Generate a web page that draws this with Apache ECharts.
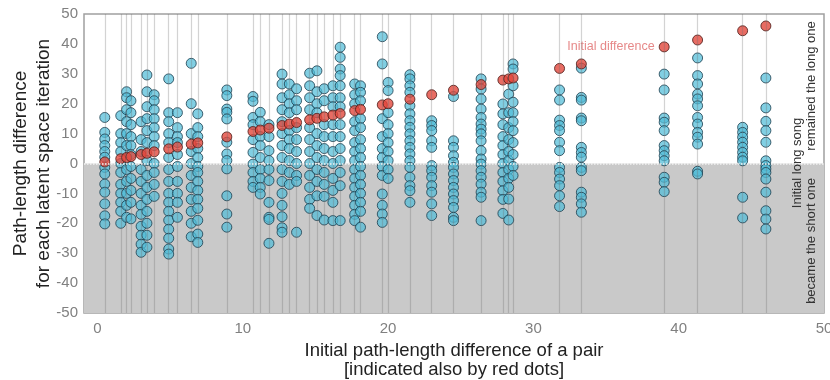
<!DOCTYPE html>
<html>
<head>
<meta charset="utf-8">
<script src="https://cdn.jsdelivr.net/npm/echarts@6/dist/echarts.min.js"></script>
<style>
  html, body { margin: 0; padding: 0; background: #fff; }
  #chart { width: 830px; height: 380px; }
</style>
</head>
<body>
<div id="chart"></div>
<script>
// initial path-length difference of each pair (also the red dots)
const pairX = [
  0.5, 1.6, 2.0, 2.3, 3.0, 3.4, 3.9, 4.9, 5.5, 6.45, 6.9, 8.9,
  10.7, 11.2, 11.8, 12.7, 13.2, 13.7, 14.6, 15.1, 15.6, 16.2, 16.7,
  17.7, 18.1, 19.6, 20.0, 21.5, 23.0, 24.5, 26.4, 27.9, 28.3, 28.6,
  31.8, 33.3, 39.0, 41.3, 44.4, 46.0
];
// path-length difference for each latent space iteration, one list per pair
const iterDiffs = [
  [15.4, 10.4, 8.2, 6, 4, 2.1, -1.3, -3.5, -6.9, -9.6, -13.5, -17.5, -20.2],
  [16, 10, 7, 4, 0, -3, -7, -10, -13, -16, -20],
  [24, 22, 18, 14, 10, 6, -2, -6, -10, -14, -18],
  [21, 17, 13, 9, 6, 3, -1, -5, -9, -13, -18.5],
  [14, 8, 4, -2, -6, -10, -14, -17, -21, -24, -27, -29.7],
  [29.6, 24, 19, 15, 11, 7, 1, -4, -8, -12, -16, -20, -24, -28],
  [23, 21, 18, 15, 12, 9, 6, 0, -3, -7, -11],
  [28.3, 17, 14, 10, 7, 2, -2, -6, -10, -13, -16, -19, -22, -25, -28.6, -30.3],
  [17, 12, 9, 7, 3, -1, -6, -10, -13, -18],
  [33.5, 20, 10, 4, 0, -4, -8, -12, -16, -20, -24.5],
  [16.6, 12, 9, 5, 2, -1, -3, -6, -9, -12, -15, -19, -23.6, -26.4],
  [24.6, 22.7, 18.2, 17.1, 14.9, 7.1, 3.2, 1, -1.8, -10.8, -16.9, -21.3],
  [22.4, 20.8, 15.4, 13, 8, 3.7, -0.2, -3, -6, -8],
  [17.1, 14, 9, 6, 2, -2, -5, -8, -10.2],
  [13, 9, 4.3, 1, -2, -5.7, -13, -18, -18.7, -26.7],
  [29.9, 26.6, 22, 18, 14, 10, 6, 2, -2, -6, -10, -14, -17.8, -21.5, -23],
  [26.6, 23, 20, 17, 11, 8, 5, 1, -3, -7],
  [25, 21, 18, 12, 8, 4, 0, -4, -6, -23],
  [30.2, 26, 22, 18, 12, 8, 4, 0, -4, -8, -12, -15],
  [31, 24, 20, 17, 10, 6, 2, -2, -6, -10.8, -17.4],
  [25, 21, 13, 9, 5, 1, -3, -7, -11, -18.9],
  [26, 22, 19, 13, 9, 4, 0, -5, -9, -13, -19.1],
  [38.9, 35.5, 31.6, 29.4, 26, 22, 19, 13, 9, 5, 1, -3, -7.4, -19.1],
  [26.6, 23, 20, 14, 11, 7, 4, 1, -2, -5, -8, -11, -14, -17, -19.1],
  [26, 23.8, 21, 15, 12, 8, 5, 2, -1, -4, -7, -10, -13, -16, -21.3],
  [42.4, 33.3, 15, 9, 5, 2, -1, -4, -10.2, -14, -16.9, -19.7],
  [27.1, 24.4, 17, 13, 10, 7, 4, 1, -2, -5],
  [29.7, 28.3, 26, 23.8, 19.3, 16.6, 14.3, 12.1, 9.9, 7.6, 5.4, 3.2, 0.9, -1.3, -4.6, -7.4, -9.1, -13],
  [14.3, 12.7, 11, 7.6, 5.4, -0.7, -2.4, -4.6, -7.4, -9.6, -13.5, -17.4],
  [22.4, 7.6, 5.4, 2.6, 0.4, -1.3, -3.5, -5.7, -8, -10.2, -12.4, -14.7, -18, -19.1],
  [28.3, 24.9, 21.6, 18.2, 15.4, 13.2, 11.5, 9.9, 7.6, 4.3, 1.5, -0.2, -2.4, -4.6, -6.9, -9.6, -11.3, -19.1],
  [19.9, 16.6, 13, 9, 6, 3, 0, -3, -6, -9.1, -12, -16.7],
  [23.2, 17, 12, 8, 4, 1, -2, -5, -8, -11.9, -18.9],
  [33.3, 31.6, 26, 20.5, 17, 14, 11, 7, 3, -1, -4],
  [24.6, 21.2, 14.5, 12.7, 11, 7.1, 4.3, -1.3, -3, -5.2, -7.4, -10.8, -14.4],
  [31.9, 22.1, 21.2, 15.2, 14.3, 5.4, 3.7, 2.1, -1.3, -2.4, -9.6, -11.3, -13.5, -16.3],
  [29.9, 24.6, 15.2, 13.8, 11, 6, 4.3, 2.6, 0.9, -4.6, -6.3, -9.4],
  [35.3, 29.4, 26.6, 23.2, 21.6, 19.3, 15.4, 13.2, 10.4, 8.8, 6.5, -2.6, -3.5],
  [12.1, 10.4, 8.8, 7.1, 5.4, 3.7, 2.1, 0.9, -11.3, -18.2],
  [28.6, 18.6, 14.1, 11, 7.1, 0.9, -0.7, -1.8, -3, -5.2, -9.6, -15.8, -18.6, -21.9]
];
const xTicks = [0, 10, 20, 30, 40, 50];
const labelPair = 39.0; // red dot that carries the "Initial difference" label

const chart = echarts.init(document.getElementById("chart"));

let bluePoints = [];
pairX.forEach((x, i) => {
  for (let v of iterDiffs[i]) {
    bluePoints.push([x, v]);
  }
});

let redPoints = pairX.map((x) => {
  if (x === labelPair) {
    return {
      value: [x, x],
      label: {
        show: true,
        position: "left",
        distance: 4,
        formatter: "Initial difference",
        color: "#e06a6a",
        fontSize: 12.5,
        fontFamily: "Liberation Sans",
      },
    };
  }
  return [x, x];
});

const font = "Liberation Sans";

// 右侧说明文字（竖排）
const sideText = (text, x, y) => ({
  type: "text",
  x: x,
  y: y,
  z: 100,
  rotation: Math.PI / 2,
  style: {
    text: text,
    fill: "#333",
    fontSize: 13,
    fontFamily: font,
    align: "center",
    verticalAlign: "middle",
  },
});

let option = {
  animation: false,
  grid: {
    left: 84,
    right: 6,
    top: 14,
    bottom: 67,
    outerBoundsMode: "none",
    show: true,
    backgroundColor: "#fff",
    borderColor: "#a0a0a0",
    borderWidth: 1.5,
  },
  xAxis: {
    type: "value",
    min: -0.93,
    max: 50,
    name: "Initial path-length difference of a pair\n[indicated also by red dots]",
    nameLocation: "middle",
    nameGap: 28,
    nameTextStyle: { color: "#222", fontSize: 18.5, fontFamily: font, lineHeight: 19 },
    axisLine: { show: false },
    axisTick: { show: false },
    splitLine: { show: false },
    axisLabel: {
      customValues: xTicks,
      color: "#808080",
      fontSize: 15,
      fontFamily: font,
      margin: 8,
    },
  },
  yAxis: {
    type: "value",
    min: -50,
    max: 50,
    interval: 10,
    name: "Path-length difference\nfor each latent space iteration",
    nameLocation: "middle",
    nameRotate: 90,
    nameGap: 29,
    nameMoveOverlap: false,
    nameTextStyle: { color: "#222", fontSize: 19, fontFamily: font, lineHeight: 23 },
    axisLine: { show: false },
    axisTick: { show: false },
    splitLine: { show: false },
    axisLabel: { color: "#808080", fontSize: 15, fontFamily: font, margin: 6 },
  },
  series: [
    {
      name: "shade",
      type: "scatter",
      data: [],
      silent: true,
      z: 1,
      markArea: {
        silent: true,
        itemStyle: { color: "#c9c9c9" },
        data: [[{ yAxis: -50 }, { yAxis: 0 }]],
      },
    },
    {
      name: "pairs",
      type: "scatter",
      data: [],
      silent: true,
      z: 2,
      markLine: {
        silent: true,
        symbol: "none",
        label: { show: false },
        animation: false,
        data: pairX
          .map((x) => ({
            xAxis: x,
            lineStyle: { color: "rgba(110,110,110,0.3)", width: 1.2, type: "solid" },
          }))
          .concat([
            { yAxis: 0, lineStyle: { color: "#f4f4f4", width: 1.5, type: "dotted" } },
          ]),
      },
    },
    {
      name: "iteration",
      type: "scatter",
      z: 3,
      symbolSize: 10,
      data: bluePoints,
      itemStyle: {
        color: "rgba(80,188,216,0.9)",
        borderColor: "#1c3d4d",
        borderWidth: 1,
      },
    },
    {
      name: "initial",
      type: "scatter",
      z: 4,
      symbolSize: 10,
      data: redPoints,
      itemStyle: {
        color: "#e2473c",
        borderColor: "#4a1a16",
        borderWidth: 1,
      },
    },
  ],
  graphic: [
    sideText("Initial long song", 797, 163),
    sideText("remained the long one", 811, 86),
    sideText("became the short one", 811, 241),
  ],
};
chart.setOption(option);
</script>
</body>
</html>
